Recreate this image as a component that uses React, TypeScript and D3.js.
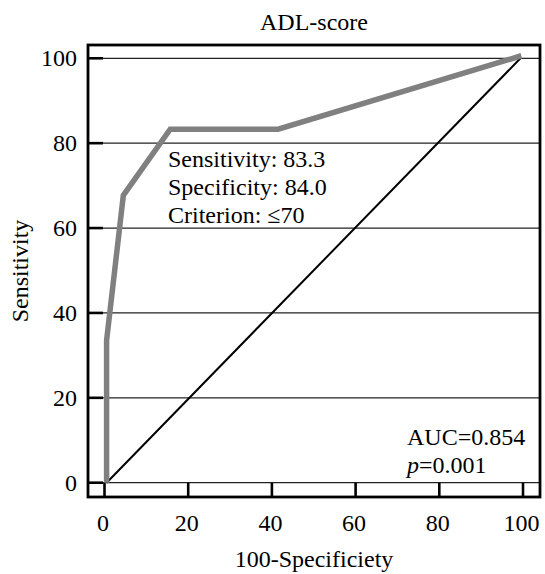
import React from "react";
import * as d3 from "d3";

const rocX = [0.5, 0.5, 4.5, 15.7, 41.5, 99.6];
const rocY = [0, 33.5, 67.7, 83.3, 83.3, 100.6];
const refX = [0.5, 99.4];
const refY = [0, 100];
const xTicks = [0, 20, 40, 60, 80, 100];
const yTicks = [0, 20, 40, 60, 80, 100];
const infoLines = ["Sensitivity: 83.3", "Specificity: 84.0", "Criterion: \u226470"];
const title = "ADL-score";
const xTitle = "100-Specificiety";
const yTitle = "Sensitivity";
const aucText = "AUC=0.854";
const pValue = "=0.001";

const W = 545;
const H = 574;
const FONT = "'Liberation Serif', 'Times New Roman', serif";
const FS = 24;

export default function App() {
  const box = { left: 88, right: 540, top: 45, bottom: 497 };
  const x = d3.scaleLinear().domain([0, 100]).range([104.5, 523]);
  const y = d3.scaleLinear().domain([0, 100]).range([482.7, 58.3]);
  const line = d3
    .line<[number, number]>()
    .x((d) => x(d[0]))
    .y((d) => y(d[1]));
  const rocPts = rocX.map((v, i) => [v, rocY[i]] as [number, number]);
  const refPts = refX.map((v, i) => [v, refY[i]] as [number, number]);
  const cx = (box.left + box.right) / 2;
  const cy = (box.top + box.bottom) / 2;

  return (
    <svg
      width={W}
      height={H}
      style={{ position: "absolute", left: 0, top: 0, background: "#fff" }}
      fontFamily={FONT}
    >
      <rect x={0} y={0} width={W} height={H} fill="#fff" />
      {yTicks.map((t) => (
        <line
          key={"g" + t}
          x1={box.left}
          x2={box.right}
          y1={y(t)}
          y2={y(t)}
          stroke="#222"
          strokeWidth={1.2}
        />
      ))}
      {yTicks.map((t) => (
        <line
          key={"yt" + t}
          x1={box.left}
          x2={box.left + 15}
          y1={y(t)}
          y2={y(t)}
          stroke="#000"
          strokeWidth={2.6}
        />
      ))}
      {xTicks.map((t) => (
        <line
          key={"xt" + t}
          x1={x(t)}
          x2={x(t)}
          y1={box.bottom}
          y2={y(0)}
          stroke="#000"
          strokeWidth={2.6}
        />
      ))}
      <path d={line(refPts) || ""} fill="none" stroke="#000" strokeWidth={2} />
      <path
        d={line(rocPts) || ""}
        fill="none"
        stroke="#808080"
        strokeWidth={5.5}
        strokeLinejoin="miter"
      />
      <rect
        x={box.left}
        y={box.top}
        width={box.right - box.left}
        height={box.bottom - box.top}
        fill="none"
        stroke="#000"
        strokeWidth={2.8}
      />
      {yTicks.map((t) => (
        <text
          key={"yl" + t}
          x={77}
          y={y(t) + 7.8}
          textAnchor="end"
          fontSize={FS}
          fill="#000"
        >
          {t}
        </text>
      ))}
      {xTicks.map((t) => (
        <text
          key={"xl" + t}
          x={x(t) - 1.5}
          y={530.5}
          textAnchor="middle"
          fontSize={FS}
          fill="#000"
        >
          {t}
        </text>
      ))}
      <text x={cx} y={30} textAnchor="middle" fontSize={FS} fill="#000">
        {title}
      </text>
      <text x={cx} y={566.7} textAnchor="middle" fontSize={FS} fill="#000">
        {xTitle}
      </text>
      <text
        transform={`translate(28,${cy}) rotate(-90)`}
        textAnchor="middle"
        fontSize={FS}
        fill="#000"
      >
        {yTitle}
      </text>
      {infoLines.map((s, i) => (
        <text key={"i" + i} x={168} y={166.7 + i * 28.3} fontSize={FS} fill="#000">
          {s}
        </text>
      ))}
      <text x={407} y={445} fontSize={FS} fill="#000">
        {aucText}
      </text>
      <text x={407} y={473.3} fontSize={FS} fill="#000">
        <tspan fontStyle="italic">p</tspan>
        {pValue}
      </text>
    </svg>
  );
}
